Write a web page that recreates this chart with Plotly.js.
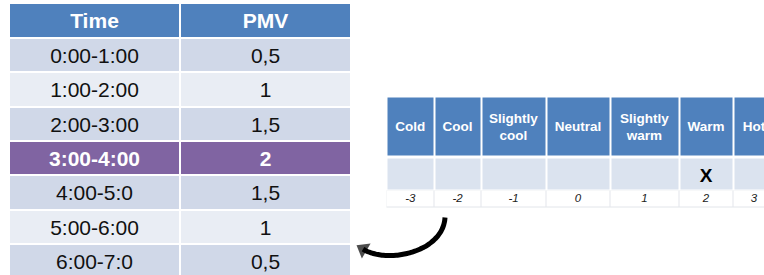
<!DOCTYPE html>
<html><head><meta charset="utf-8">
<script src="https://cdn.plot.ly/plotly-3.0.1.min.js"></script>
<style>html,body{margin:0;padding:0;background:#fff}#chart{width:764px;height:275px}</style>
</head><body><div id="chart"></div>
<script>
// ---------------- data ----------------
const tableHeaders = ["Time", "PMV"];
const timeSlots = ["0:00-1:00", "1:00-2:00", "2:00-3:00", "3:00-4:00", "4:00-5:0", "5:00-6:00", "6:00-7:0"];
const pmvValues = [0.5, 1, 1.5, 2, 1.5, 1, 0.5];
const scaleLabels = ["Cold", "Cool", "Slightly cool", "Neutral", "Slightly warm", "Warm", "Hot"];
const scaleValues = [-3, -2, -1, 0, 1, 2, 3];

// ---------------- style / geometry ----------------
const W = 764, H = 275;
const FONT = "Liberation Sans, Arial, sans-serif";
const PALETTE = ['#4F81BD', '#D0D8E8', '#E9EDF4', '#8064A2', '#DBE3EF', '#FFFFFF', '#E3E6EB'];
const C = {header: 0, dark: 1, light: 2, hi: 3, scaleRow: 4, white: 5, rule: 6};
const colorscale = PALETTE.map((c, i) => [i / (PALETTE.length - 1), c]);

const leftColEdges = [9, 180, 351];
const leftTop = 3, leftHeaderH = 35, leftRowH = 34.35, leftTextDy = 2.5;
const rightLeft = 386.5, rightColWidths = [47.5, 47, 65, 64, 69, 54, 42];
const rightTop = 96.5, rightHeaderH = 61, rightRowH = 34, numRowH = 17;

function cumEdges(start, sizes) { const e = [start]; sizes.forEach(s => e.push(e[e.length - 1] + s)); return e; }
function centers(edges) { return edges.slice(0, -1).map((e, i) => (e + edges[i + 1]) / 2); }
const fmt = v => String(v).replace('.', ',');

// highlighted row = the hour with the highest PMV
const hiIdx = pmvValues.indexOf(Math.max(...pmvValues));
const hiCol = scaleValues.indexOf(pmvValues[hiIdx]);

// ---------------- left table ----------------
const leftRowEdges = cumEdges(leftTop, [leftHeaderH].concat(timeSlots.map(() => leftRowH)));
const leftZ = [tableHeaders.map(() => C.header)].concat(
  timeSlots.map((t, i) => tableHeaders.map(() => i === hiIdx ? C.hi : (i % 2 === 0 ? C.dark : C.light))));
const leftCx = centers(leftColEdges), leftCy = centers(leftRowEdges).map(v => v + leftTextDy);

const heatBase = {type: 'heatmap', colorscale: colorscale, zmin: 0, zmax: PALETTE.length - 1,
  showscale: false, hoverinfo: 'skip', zsmooth: false};

const traces = [];
traces.push(Object.assign({}, heatBase, {z: leftZ, x: leftColEdges, y: leftRowEdges, xgap: 2, ygap: 2}));

const lx = [], ly = [], lt = [], lc = [];
tableHeaders.forEach((h, j) => { lx.push(leftCx[j]); ly.push(leftCy[0] - 0.5); lt.push('<b>' + h + '</b>'); lc.push('#FFFFFF'); });
timeSlots.forEach((t, i) => {
  const cells = [t, fmt(pmvValues[i])];
  cells.forEach((s, j) => {
    lx.push(leftCx[j]); ly.push(leftCy[i + 1]);
    lt.push(i === hiIdx ? '<b>' + s + '</b>' : s);
    lc.push(i === hiIdx ? '#FFFFFF' : '#111111');
  });
});
traces.push({type: 'scatter', mode: 'text', x: lx, y: ly, text: lt, textposition: 'middle center',
  textfont: {family: FONT, size: 21, color: lc}, hoverinfo: 'skip', cliponaxis: false});

// ---------------- right scale table ----------------
const rColEdges = cumEdges(rightLeft, rightColWidths);
const rCx = centers(rColEdges);
const rRowEdges = cumEdges(rightTop, [rightHeaderH, rightRowH]);
const rCy = centers(rRowEdges);
traces.push(Object.assign({}, heatBase, {
  z: [scaleLabels.map(() => C.header), scaleLabels.map(() => C.scaleRow)],
  x: rColEdges, y: rRowEdges, xgap: 2, ygap: 3}));

// number row: faint rules underneath white cells
const numTop = rRowEdges[2] - 1;
const numEdges = [numTop, numTop + numRowH];
traces.push(Object.assign({}, heatBase, {z: [[C.rule]], x: [rColEdges[0], rColEdges[rColEdges.length - 1]], y: numEdges}));
traces.push(Object.assign({}, heatBase, {z: [scaleLabels.map(() => C.white)], x: rColEdges, y: numEdges, xgap: 1, ygap: 1}));
const numCy = (numEdges[0] + numEdges[1]) / 2;

traces.push({type: 'scatter', mode: 'text', x: rCx, y: scaleLabels.map(() => rCy[0] + 1),
  text: scaleLabels.map(s => '<b>' + s.replace(' ', '<br>') + '</b>'), textposition: 'middle center',
  textfont: {family: FONT, size: 13.5, color: '#FFFFFF'}, hoverinfo: 'skip', cliponaxis: false});
traces.push({type: 'scatter', mode: 'text', x: [rCx[hiCol]], y: [rCy[1] + 3],
  text: ['<b>X</b>'], textposition: 'middle center',
  textfont: {family: FONT, size: 19, color: '#000000'}, hoverinfo: 'skip', cliponaxis: false});
traces.push({type: 'scatter', mode: 'text', x: rCx, y: scaleValues.map(() => numCy + 0.5),
  text: scaleValues.map(v => '<i>' + v + '</i>'), textposition: 'middle center',
  textfont: {family: FONT, size: 11.5, color: '#222222'}, hoverinfo: 'skip', cliponaxis: false});

// ---------------- curved arrow (from scale back to the table) ----------------
const p0 = [rColEdges[1] + 11, numEdges[1] + 10];
const p3 = [leftColEdges[2] + 12, leftRowEdges[7] + 5];
const p1 = [p0[0] - 2, p0[1] + 35];
const p2 = [p3[0] + 24, p3[1] + 15];
const ax = [], ay = [];
for (let k = 0; k <= 40; k++) {
  const t = k / 40, u = 1 - t;
  ax.push(u*u*u*p0[0] + 3*u*u*t*p1[0] + 3*u*t*t*p2[0] + t*t*t*p3[0]);
  ay.push(u*u*u*p0[1] + 3*u*u*t*p1[1] + 3*u*t*t*p2[1] + t*t*t*p3[1]);
}
traces.push({type: 'scatter', mode: 'lines', x: ax, y: ay,
  line: {color: '#000000', width: 5, shape: 'spline'}, hoverinfo: 'skip', cliponaxis: false});
traces.push({type: 'scatter', mode: 'markers', x: ax.slice(-4), y: ay.slice(-4),
  marker: {symbol: 'triangle-up', angleref: 'previous', color: '#000000',
    size: [0, 0, 0, 15], line: {width: 0}},
  hoverinfo: 'skip', cliponaxis: false});

const layout = {
  width: W, height: H, margin: {l: 0, r: 0, t: 0, b: 0, pad: 0},
  paper_bgcolor: '#FFFFFF', plot_bgcolor: '#FFFFFF', showlegend: false, hovermode: false,
  xaxis: {range: [0, W], visible: false, fixedrange: true},
  yaxis: {range: [H, 0], visible: false, fixedrange: true}
};
Plotly.newPlot('chart', traces, layout, {staticPlot: true, displayModeBar: false});
</script>
</body></html>
